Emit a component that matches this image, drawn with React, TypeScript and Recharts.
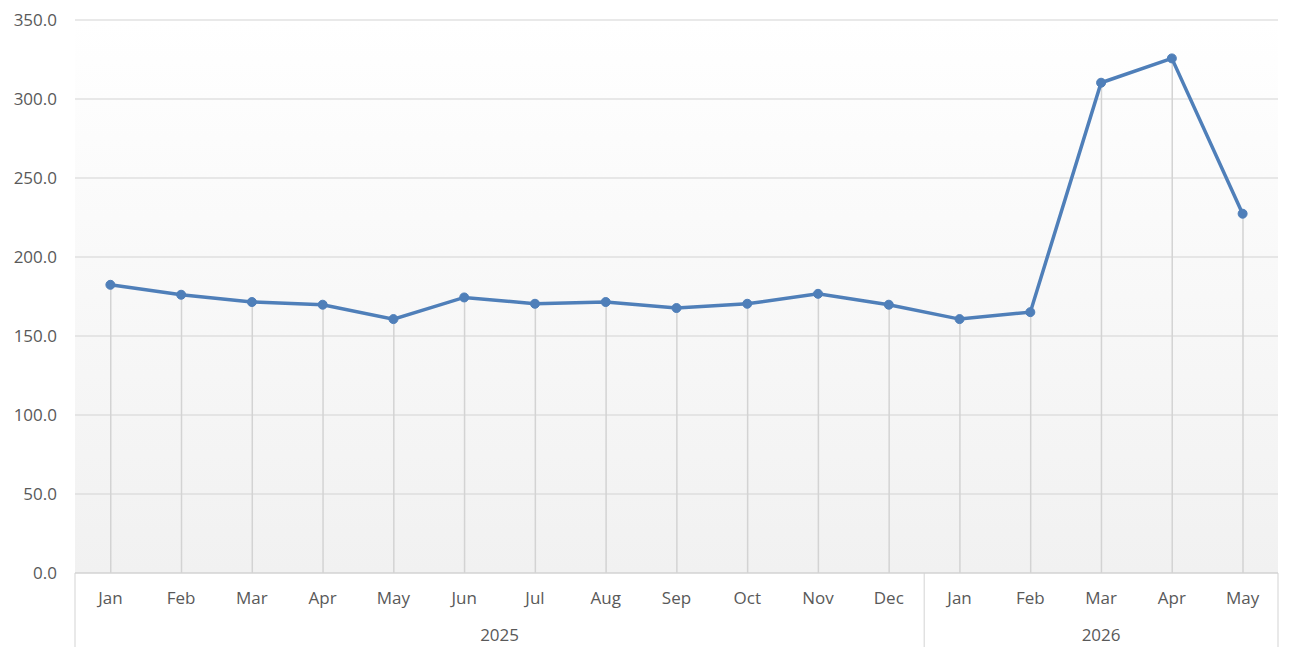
import React from 'react';
import { ComposedChart, Line, Bar, XAxis, YAxis, CartesianGrid } from 'recharts';

const months = ['Jan', 'Feb', 'Mar', 'Apr', 'May', 'Jun', 'Jul', 'Aug', 'Sep', 'Oct', 'Nov', 'Dec', 'Jan', 'Feb', 'Mar', 'Apr', 'May'];
const years = ['2025', '2025', '2025', '2025', '2025', '2025', '2025', '2025', '2025', '2025', '2025', '2025', '2026', '2026', '2026', '2026', '2026'];
const values = [182.4, 176.1, 171.5, 169.8, 160.7, 174.4, 170.4, 171.5, 167.7, 170.4, 176.7, 169.8, 160.7, 165.1, 310.3, 325.7, 227.4];
const yTicks = [0, 50, 100, 150, 200, 250, 300, 350];

const data = months.map((m, i) => ({ key: `${years[i]}-${i}`, month: m, year: years[i], value: values[i] }));

const WIDTH = 1298;
const HEIGHT = 657;
const MARGIN = { top: 20, right: 20, bottom: 10, left: 0 };
const Y_WIDTH = 75;
const MONTH_H = 37;
const YEAR_H = 37;
const FONT = '"Open Sans", "Noto Sans", sans-serif';
const FONT_SIZE = 17;
const TEXT = '#595959';
const GRID = '#d3d3d3';
const BLUE = '#4f7fb9';

// width of one category band, used by the two-level axis ticks
const band = (WIDTH - MARGIN.left - MARGIN.right - Y_WIDTH) / data.length;

const MonthTick = (props: any) => {
  const { x, y, index } = props;
  return (
    <text x={x} y={y} dy={31} textAnchor="middle" fill={TEXT} fontSize={FONT_SIZE} fontFamily={FONT}>
      {months[index]}
    </text>
  );
};

const YearTick = (props: any) => {
  const { x, y, index } = props;
  const year = years[index];
  const isStart = index === 0 || years[index - 1] !== year;
  const isEnd = index === years.length - 1;
  const groupIdx = years.map((v, i) => (v === year ? i : -1)).filter((i) => i >= 0);
  const mid = (groupIdx[0] + groupIdx[groupIdx.length - 1]) / 2;
  const top = y - MONTH_H;
  const bottom = y + YEAR_H;
  return (
    <g>
      {isStart && <line x1={x - band / 2} x2={x - band / 2} y1={top} y2={bottom} stroke={GRID} />}
      {isEnd && <line x1={x + band / 2} x2={x + band / 2} y1={top} y2={bottom} stroke={GRID} />}
      {Math.floor(mid) === index && (
        <text
          x={x + (mid - index) * band}
          y={y}
          dy={31}
          textAnchor="middle"
          fill={TEXT}
          fontSize={FONT_SIZE}
          fontFamily={FONT}
        >
          {year}
        </text>
      )}
    </g>
  );
};

const App = () => {
  return (
    <div style={{ position: 'absolute', left: 0, top: 0, background: '#fff' }}>
      <ComposedChart width={WIDTH} height={HEIGHT} data={data} margin={MARGIN}>
        <defs>
          <linearGradient id="plotBg" x1="0" y1="0" x2="0" y2="1">
            <stop offset="0%" stopColor="#ffffff" />
            <stop offset="100%" stopColor="#f1f1f1" />
          </linearGradient>
        </defs>
        <CartesianGrid vertical={false} stroke={GRID} fill="url(#plotBg)" fillOpacity={1} />
        <XAxis
          dataKey="key"
          height={MONTH_H}
          axisLine={{ stroke: GRID }}
          tickLine={false}
          tickSize={0}
          tickMargin={0}
          interval={0}
          tick={(p: any) => <MonthTick {...p} />}
        />
        <XAxis
          xAxisId="year"
          dataKey="key"
          height={YEAR_H}
          axisLine={false}
          tickLine={false}
          tickSize={0}
          tickMargin={0}
          interval={0}
          tick={(p: any) => <YearTick {...p} />}
        />
        <YAxis
          width={Y_WIDTH}
          domain={[0, 350]}
          ticks={yTicks}
          axisLine={false}
          tickLine={false}
          tickSize={0}
          tickMargin={18}
          tickFormatter={(v: number) => v.toFixed(1)}
          tick={{ fill: TEXT, fontSize: FONT_SIZE, fontFamily: FONT }}
        />
        <Bar dataKey="value" barSize={1.5} fill={GRID} isAnimationActive={false} />
        <Line
          dataKey="value"
          stroke={BLUE}
          strokeWidth={3.5}
          dot={{ r: 4.5, fill: BLUE, stroke: BLUE, strokeWidth: 1 }}
          activeDot={false}
          isAnimationActive={false}
        />
      </ComposedChart>
    </div>
  );
};

export default App;
